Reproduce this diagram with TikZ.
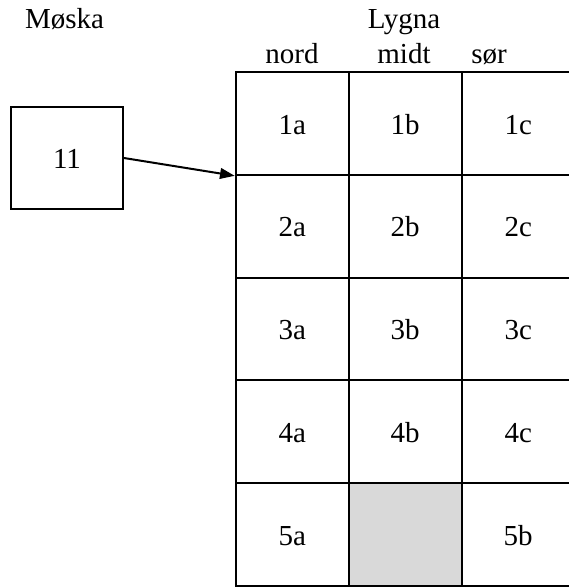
\documentclass[tikz,border=0pt]{standalone}
\usepackage{fontspec}
\setmainfont{Liberation Serif}
\usetikzlibrary{arrows.meta}

\tikzset{
  cell/.style={draw, line width=1.5pt, minimum width=84.75pt, minimum height=77.1pt,
    inner sep=0pt, text height=16pt, text depth=0pt},
  head/.style={anchor=base, inner sep=0pt},
  link/.style={line width=1.5pt, -{Triangle[length=11pt,width=8pt]}},
}

\begin{document}
\begin{tikzpicture}[x=0.75pt, y=-0.75pt, font=\fontsize{21.75}{26}\selectfont]
  \useasboundingbox (0,0) rectangle (569,587);

  % headings
  \node[head] (moska) at (64.5,28) {Møska};
  \node[head] (lygna) at (404,28) {Lygna};
  \node[head] (nord) at (292,63) {nord};
  \node[head] (midt) at (404,63) {midt};
  \node[head] (sor) at (489,63) {sør};

  % the grid
  \foreach \r in {1,...,4}
    \foreach \c/\x in {a/292.2,b/405.2,c/518.2}
      \node[cell] (c\r\c) at (\x,{72+102.8*(\r-0.5)}) {\r\c};
  \node[cell] (c5a) at (292.2,534.6) {5a};
  \node[cell, fill=gray!30] (c5b) at (405.2,534.6) {};
  \node[cell] (c5c) at (518.2,534.6) {5b};

  \node[cell, minimum width=84pt, minimum height=76.5pt] (n11) at (67,158) {11};
  \draw[link] (n11.east) -- (c1a.south west);
\end{tikzpicture}
\end{document}
